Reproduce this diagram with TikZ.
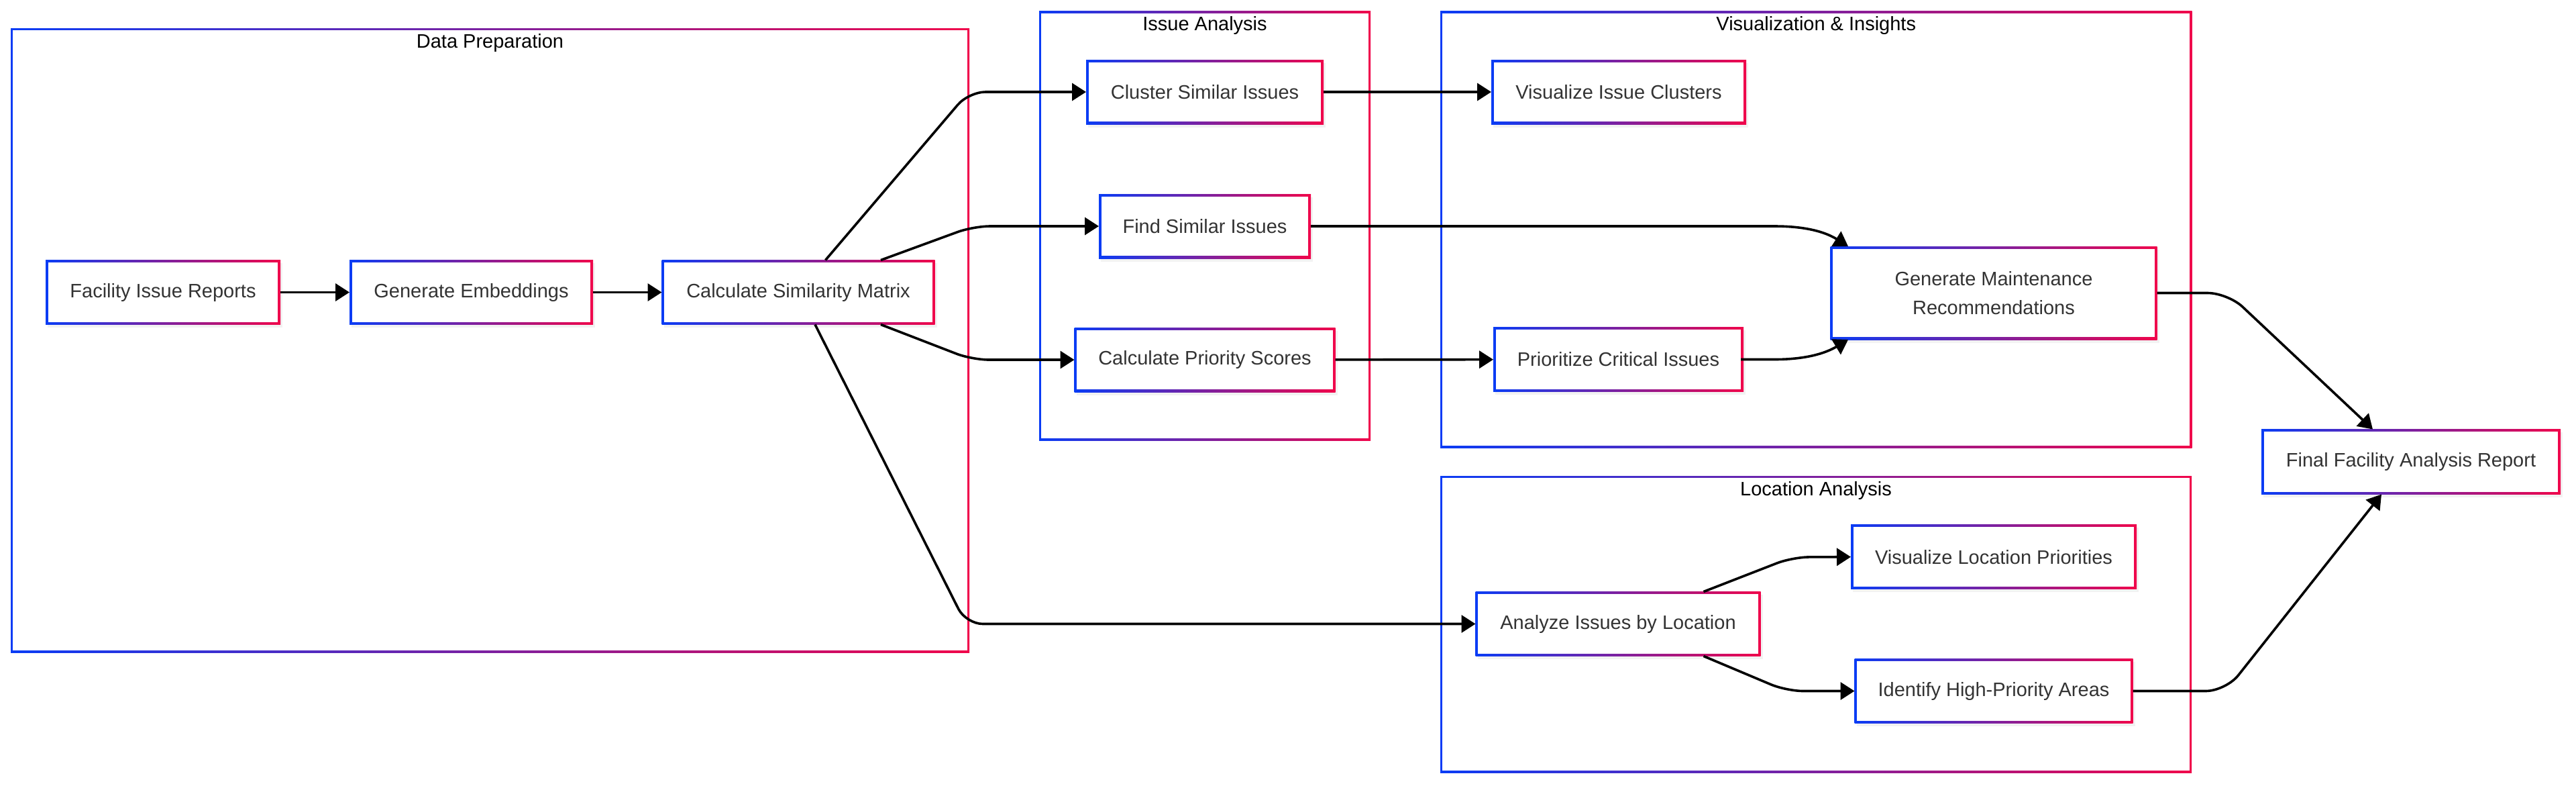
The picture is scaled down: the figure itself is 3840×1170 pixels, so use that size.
\documentclass[tikz,border=0pt]{standalone}
\usepackage{fontspec}
\setmainfont{Liberation Sans}
\usetikzlibrary{arrows.meta,shadows,backgrounds}
\definecolor{gblue}{RGB}{10,60,245}
\definecolor{gred}{RGB}{240,5,75}
\definecolor{ink}{HTML}{333333}
\tikzset{
  gradframe/.style={path picture={
    \shade[left color=gblue,right color=gred] (path picture bounding box.south west) rectangle (path picture bounding box.north east);
    \fill[white] ([shift={(#1,#1)}]path picture bounding box.south west) rectangle ([shift={(-#1,-#1)}]path picture bounding box.north east);}},
  task/.style={gradframe=0.36mm, fill=white, inner sep=0pt, outer sep=0pt, minimum height=9.6mm,
    text=ink, font=\fontsize{8.25}{12.4}\selectfont, align=center,
    drop shadow={opacity=0.1, shadow xshift=0.3mm, shadow yshift=-0.45mm}},
  stage/.style={gradframe=0.33mm, fill=white, inner sep=0pt, outer sep=0pt},
  stagetitle/.style={font=\fontsize{8.25}{10}\selectfont, text=black},
  flow/.style={line width=0.36mm, rounded corners=2.5mm, -{Triangle[length=2.1mm,width=2.6mm]}}
}
\begin{document}
\begin{tikzpicture}[x=0.1mm,y=-0.1mm]
\useasboundingbox (0,0) rectangle (3840,1170);
\begin{pgfonlayer}{background}
\node[stage, minimum width=142.9mm, minimum height=93mm] (prep) at (730.5,507) {};
\node[stage, minimum width=49.4mm, minimum height=63.95mm] (issue) at (1796,336.25) {};
\node[stage, minimum width=112.05mm, minimum height=65.05mm] (insight) at (2707.25,341.75) {};
\node[stage, minimum width=112mm, minimum height=44.2mm] (location) at (2707,930) {};
\end{pgfonlayer}
\node[stagetitle] (preptitle) at ([yshift=-2.15mm]prep.north) {Data Preparation};
\node[stagetitle] (issuetitle) at ([yshift=-2.15mm]issue.north) {Issue Analysis};
\node[stagetitle] (insighttitle) at ([yshift=-2.15mm]insight.north) {Visualization \& Insights};
\node[stagetitle] (locationtitle) at ([yshift=-2.15mm]location.north) {Location Analysis};

\node[task, minimum width=35mm] (reports) at (243,435.5) {Facility Issue Reports};
\node[task, minimum width=36.3mm] (embed) at (702.5,435.5) {Generate Embeddings};
\node[task, minimum width=40.7mm] (simmatrix) at (1190,435.5) {Calculate Similarity Matrix};
\node[task, minimum width=35.4mm] (clusterissues) at (1796,137) {Cluster Similar Issues};
\node[task, minimum width=31.6mm] (findissues) at (1796,337) {Find Similar Issues};
\node[task, minimum width=38.9mm] (priorityscores) at (1796,536) {Calculate Priority Scores};
\node[task, minimum width=38mm] (visclusters) at (2413,137) {Visualize Issue Clusters};
\node[task, minimum width=37.3mm] (critical) at (2412.5,535.5) {Prioritize Critical Issues};
\node[task, minimum width=48.7mm, minimum height=13.9mm] (recommend) at (2972,436.5) {Generate Maintenance\\Recommendations};
\node[task, minimum width=42.5mm] (bylocation) at (2412,929.5) {Analyze Issues by Location};
\node[task, minimum width=42.6mm] (vislocation) at (2972,829.7) {Visualize Location Priorities};
\node[task, minimum width=41.5mm] (highareas) at (2972,1029.5) {Identify High-Priority Areas};
\node[task, minimum width=44.6mm, minimum height=9.7mm] (report) at (3594,688) {Final Facility Analysis Report};

\draw[flow] (reports) -- (embed);
\draw[flow] (embed) -- (simmatrix);
\draw[flow] ([xshift=4.05mm]simmatrix.north) -- (1444,137) -- (clusterissues.west);
\draw[flow] ([xshift=12.3mm]simmatrix.north) -- (1451,337) -- (findissues.west);
\draw[flow] ([xshift=12.3mm]simmatrix.south) -- (1449,536) -- (priorityscores.west);
\draw[flow] ([xshift=2.5mm]simmatrix.south) -- (1440,929.5) -- (bylocation.west);
\draw[flow] (clusterissues) -- (visclusters);
\draw[flow] (priorityscores) -- (critical);
\draw[flow] (findissues.east) -- (2620,337) .. controls (2690,337) and (2720,345) .. ([xshift=-21.7mm]recommend.north);
\draw[flow] (critical.east) -- (2620,535.5) .. controls (2690,535.5) and (2720,527) .. ([xshift=-21.7mm]recommend.south);
\draw[flow, rounded corners=3mm] (recommend.east) -- (3321,436.5) -- ([xshift=-5.7mm]report.north);
\draw[flow] ([xshift=12.75mm]bylocation.north) -- (2672,830) -- (vislocation.west);
\draw[flow] ([xshift=12.75mm]bylocation.south) -- (2663,1029.5) -- (highareas.west);
\draw[flow, rounded corners=3mm] (highareas.east) -- (3318,1029.5) -- ([xshift=-4.4mm]report.south);
\end{tikzpicture}
\end{document}
